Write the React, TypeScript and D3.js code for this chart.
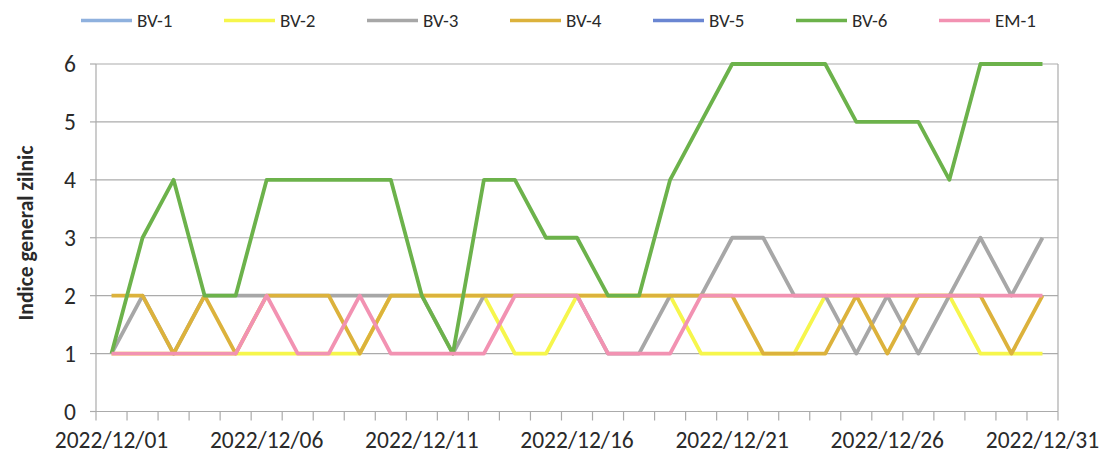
import * as d3 from "d3";

// days of December 2022
const days = d3.range(1, 32);
const tickDays = [1, 6, 11, 16, 21, 26, 31];
const yTicks = [0, 1, 2, 3, 4, 5, 6];

// daily index per station (BV-1 and BV-5 show no visible trace in the source)
const bv1: number[] = [];
const bv2 = [1, 1, 1, 1, 1, 1, 1, 1, 1, 2, 2, 2, 2, 1, 1, 2, 2, 2, 2, 1, 1, 1, 1, 2, 2, 2, 2, 2, 1, 1, 1];
const bv3 = [1, 2, 1, 2, 2, 2, 2, 2, 2, 2, 2, 1, 2, 2, 2, 2, 1, 1, 2, 2, 3, 3, 2, 2, 1, 2, 1, 2, 3, 2, 3];
const bv4 = [2, 2, 1, 2, 1, 2, 2, 2, 1, 2, 2, 2, 2, 2, 2, 2, 2, 2, 2, 2, 2, 1, 1, 1, 2, 1, 2, 2, 2, 1, 2];
const bv5: number[] = [];
const bv6 = [1, 3, 4, 2, 2, 4, 4, 4, 4, 4, 2, 1, 4, 4, 3, 3, 2, 2, 4, 5, 6, 6, 6, 6, 5, 5, 5, 4, 6, 6, 6];
const em1 = [1, 1, 1, 1, 1, 2, 1, 1, 2, 1, 1, 1, 1, 2, 2, 2, 1, 1, 1, 2, 2, 2, 2, 2, 2, 2, 2, 2, 2, 2, 2];

const seriesNames = ["BV-1", "BV-2", "BV-3", "BV-4", "BV-5", "BV-6", "EM-1"];
const seriesValues = [bv1, bv2, bv3, bv4, bv5, bv6, em1];
const seriesColors = ["#8fb1de", "#f6f64c", "#a7a7a7", "#dcb23c", "#6a86d2", "#6cb24b", "#f292b2"];

const W = 1104;
const H = 455;
const FONT = "Carlito, Calibri, Lato, sans-serif";
const INK = "#2a2a2a";

const fmt = (d: number) => `2022/12/${String(d).padStart(2, "0")}`;

export default function App() {
  const x = d3.scaleBand<number>().domain(days).range([96, 1058]).padding(0);
  const y = d3.scaleLinear().domain([0, 6]).range([411.5, 64]);
  const cx = (d: number) => (x(d) ?? 0) + x.bandwidth() / 2;

  const line = d3
    .line<number>()
    .x((_, i) => cx(days[i]))
    .y((v) => y(v));

  const grid = "#ababab";
  const boundaries = days.map((d) => x(d) ?? 0).concat([1058]);

  return (
    <svg width={W} height={H} style={{ position: "absolute", left: 0, top: 0, background: "#fff" }}>
      {/* legend */}
      {seriesNames.map((name, i) => {
        const lx = 81 + i * 143;
        return (
          <g key={name}>
            <line x1={lx} x2={lx + 51} y1={20.5} y2={20.5} stroke={seriesColors[i]} strokeWidth={3.5} />
            <text x={lx + 56} y={27} fontFamily={FONT} fontSize={19} fill={INK}>
              {name}
            </text>
          </g>
        );
      })}

      {/* gridlines */}
      {yTicks.slice(1).map((t) => (
        <line key={t} x1={96} x2={1058} y1={y(t)} y2={y(t)} stroke={grid} strokeWidth={1.2} />
      ))}
      <line x1={1058} x2={1058} y1={y(6)} y2={y(0)} stroke={grid} strokeWidth={1.2} />

      {/* y axis */}
      <line x1={96} x2={96} y1={y(6)} y2={y(0)} stroke={grid} strokeWidth={1.2} />
      {yTicks.map((t) => (
        <g key={t}>
          <line x1={90} x2={96} y1={y(t)} y2={y(t)} stroke={grid} strokeWidth={1.2} />
          <text x={76} y={y(t)} dy="0.36em" textAnchor="end" fontFamily={FONT} fontSize={23.5} fill={INK}>
            {t}
          </text>
        </g>
      ))}
      <text
        transform={`translate(25,233) rotate(-90)`}
        textAnchor="middle"
        dy="0.35em"
        fontFamily={FONT}
        fontSize={21.5}
        fontWeight="bold"
        fill={INK}
      >
        Indice general zilnic
      </text>

      {/* x axis */}
      <line x1={96} x2={1058} y1={y(0)} y2={y(0)} stroke={grid} strokeWidth={1.2} />
      {boundaries.map((bx, i) => (
        <line key={i} x1={bx} x2={bx} y1={y(0)} y2={y(0) + 9} stroke={grid} strokeWidth={1.2} />
      ))}
      {tickDays.map((d) => (
        <text key={d} x={cx(d)} y={448} textAnchor="middle" fontFamily={FONT} fontSize={23.5} fill={INK}>
          {fmt(d)}
        </text>
      ))}

      {/* series */}
      {seriesValues.map((vals, i) =>
        vals.length ? (
          <path
            key={seriesNames[i]}
            d={line(vals) ?? ""}
            fill="none"
            stroke={seriesColors[i]}
            strokeWidth={3.8}
            strokeLinejoin="round"
          />
        ) : null
      )}
    </svg>
  );
}
